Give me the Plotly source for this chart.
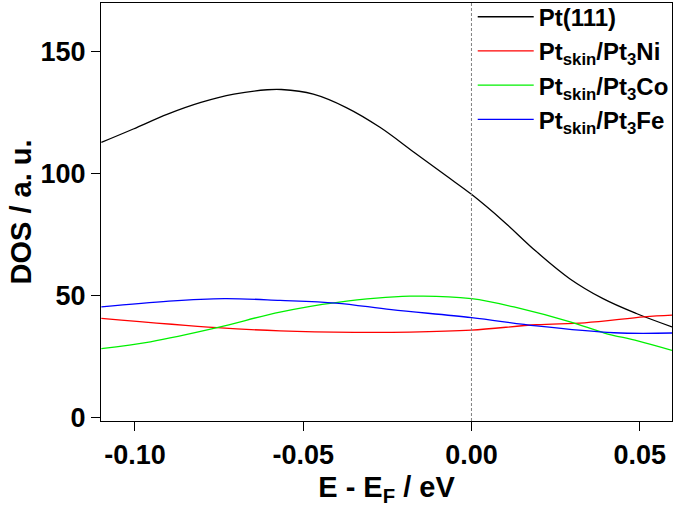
import plotly.graph_objects as go

# Energy (eV) / DOS values
x_pt111 = [-0.110, -0.1005, -0.0903, -0.0804, -0.0706, -0.0607, -0.0565, -0.047, -0.0372, -0.0272,
           -0.0173, -0.0074, 0.0, 0.0094, 0.0193, 0.0292, 0.0391, 0.0490, 0.0596]
y_pt111 = [112.8, 118.3, 124.4, 129.2, 132.6, 134.4, 134.5, 132.6, 127.1, 119.0,
           109.0, 99.0, 91.5, 80.6, 68.0, 56.9, 48.7, 42.6, 37.1]

x_ni = [-0.110, -0.0756, -0.0569, -0.0348, -0.0183, 0.0, 0.0193, 0.0337, 0.0513, 0.0596]
y_ni = [40.6, 36.8, 35.5, 34.9, 35.0, 35.8, 38.0, 38.8, 41.2, 41.9]

x_co = [-0.110, -0.0954, -0.0756, -0.0569, -0.0403, -0.0183, 0.0, 0.0147, 0.0296, 0.0395, 0.0494, 0.0596]
y_co = [28.2, 31.0, 36.8, 43.2, 47.1, 49.7, 48.7, 44.6, 39.1, 34.6, 31.4, 27.5]

x_fe = [-0.110, -0.0899, -0.0734, -0.0569, -0.0403, -0.0238, 0.0, 0.0193, 0.0424, 0.0596]
y_fe = [45.3, 47.7, 48.7, 48.0, 46.9, 44.2, 40.9, 37.5, 34.7, 34.6]

names = ["Pt(111)", "Pt<sub>skin</sub>/Pt<sub>3</sub>Ni",
         "Pt<sub>skin</sub>/Pt<sub>3</sub>Co", "Pt<sub>skin</sub>/Pt<sub>3</sub>Fe"]
colors = ["#000000", "#ff0000", "#00f000", "#0000ff"]

x_ticks = [-0.10, -0.05, 0.00, 0.05]
x_ticklabels = ["-0.10", "-0.05", "0.00", "0.05"]
y_ticks = [0, 50, 100, 150]

fig = go.Figure()
for i, (xs, ys, nm, c) in enumerate(zip([x_pt111, x_ni, x_co, x_fe], [y_pt111, y_ni, y_co, y_fe], names, colors)):
    fig.add_trace(go.Scatter(x=xs, y=ys, mode="lines", name=nm, legendgroup=f"g{i}",
                             line=dict(color=c, width=1.3, shape="spline", smoothing=1.0)))

fig.add_shape(type="line", x0=0, x1=0, y0=0, y1=1, xref="x", yref="paper",
              line=dict(color="#808080", width=1, dash="3px,2px"))

font = "Liberation Sans, Arial, sans-serif"
fig.update_layout(
    width=675, height=508,
    margin=dict(l=101, r=3, t=3, b=87, autoexpand=False),
    paper_bgcolor="white", plot_bgcolor="white",
    font=dict(family=font, color="black"),
    showlegend=True,
    legend=dict(x=0.651, y=1.02, xanchor="left", yanchor="top",
                bgcolor="rgba(0,0,0,0)", borderwidth=0,
                font=dict(size=24, family=font, weight="bold"),
                tracegroupgap=0, itemwidth=56),
    xaxis=dict(range=[-0.1101, 0.0596], tickvals=x_ticks, ticktext=x_ticklabels, automargin=False,
               showgrid=False, zeroline=False, showline=True, linecolor="black", linewidth=1.3,
               mirror=True, ticks="outside", ticklen=9, tickwidth=1.3, tickcolor="black",
               tickfont=dict(size=27, family=font, weight="bold"),
               title=dict(text="E - E<sub>F</sub> / eV", font=dict(size=29, family=font, weight="bold"), standoff=8)),
    yaxis=dict(range=[-1.5, 170], tickvals=y_ticks, automargin=False,
               showgrid=False, zeroline=False, showline=True, linecolor="black", linewidth=1.3,
               mirror=True, ticks="outside", ticklen=9, tickwidth=1.3, tickcolor="black",
               tickfont=dict(size=27, family=font, weight="bold"),
               title=dict(text="DOS / a. u.", font=dict(size=29, family=font, weight="bold"), standoff=0)),
)

fig.write_html("out.html", config={"displayModeBar": False},
               post_script="document.body.style.margin='0';document.body.style.overflow='hidden';")
